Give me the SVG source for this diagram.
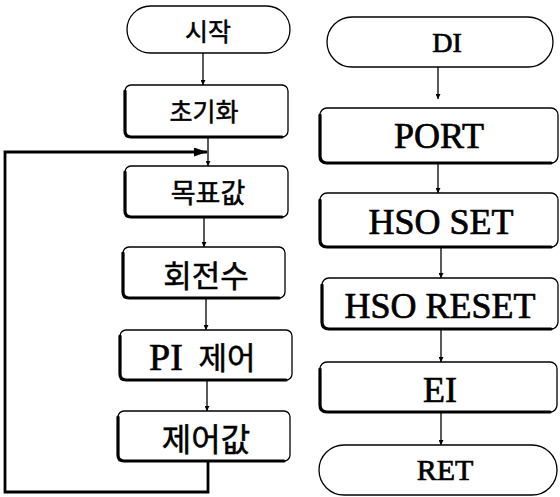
<svg xmlns="http://www.w3.org/2000/svg" width="560" height="497" viewBox="0 0 560 497">
<defs>
<style>
.box{fill:#fff;stroke:#000;stroke-width:1.3}
.sh{fill:none;stroke:#000;stroke-width:3.2;stroke-linecap:round}
.con{fill:none;stroke:#000;stroke-width:1.3}
.loop{fill:none;stroke:#000;stroke-width:2.8}
.ko{font-family:"Noto Sans CJK KR","Noto Sans",sans-serif;text-anchor:middle;dominant-baseline:central;fill:#000;stroke:#000;stroke-width:0.5}
.en{font-family:"Liberation Serif","DejaVu Serif",serif;text-anchor:middle;fill:#000;stroke:#000;stroke-width:0.7}
</style>
<marker id="ah" viewBox="0 0 10 10" refX="10" refY="5" markerWidth="5" markerHeight="5" markerUnits="userSpaceOnUse" orient="auto"><path d="M0,0L10,5L0,10z" fill="#000"/></marker>
<marker id="ahb" viewBox="0 0 10 10" refX="10" refY="5" markerWidth="13" markerHeight="9" markerUnits="userSpaceOnUse" orient="auto" preserveAspectRatio="none"><path d="M0,0L10,5L0,10z" fill="#000"/></marker>
</defs>
<rect width="560" height="497" fill="#fff"/>
<g id="connectors">
<path class="con" d="M203,53V85" marker-end="url(#ah)"/>
<path class="con" d="M208,137V166" marker-end="url(#ah)"/>
<path class="con" d="M204,217V247" marker-end="url(#ah)"/>
<path class="con" d="M206,298V330" marker-end="url(#ah)"/>
<path class="con" d="M207,380V411" marker-end="url(#ah)"/>
<path class="loop" d="M208,461V492H5V152H207" marker-end="url(#ahb)"/>
<path class="con" d="M438,67V99" marker-end="url(#ah)"/>
<path class="con" d="M438,163V193" marker-end="url(#ah)"/>
<path class="con" d="M441,247V278" marker-end="url(#ah)"/>
<path class="con" d="M441,329V362" marker-end="url(#ah)"/>
<path class="con" d="M441,412V445" marker-end="url(#ah)"/>
</g>
<g id="start">
<rect class="box" x="127" y="6" width="163" height="47" rx="23.5"/>
<text class="ko" x="208" y="30" font-size="25">시작</text>
</g>
<g id="init">
<rect class="box" x="125" y="85" width="163" height="52" rx="6"/>
<path class="sh" d="M125,91V131Q125,137 131,137H282"/>
<text class="ko" x="204" y="110" font-size="25">초기화</text>
</g>
<g id="target">
<rect class="box" x="125" y="166" width="163" height="51" rx="6"/>
<path class="sh" d="M125,172V211Q125,217 131,217H282"/>
<text class="ko" x="208" y="191" font-size="27">목표값</text>
</g>
<g id="speed">
<rect class="box" x="123" y="247" width="162" height="51" rx="6"/>
<path class="sh" d="M123,253V292Q123,298 129,298H279"/>
<text class="ko" x="206" y="273" font-size="31">회전수</text>
</g>
<g id="pi">
<rect class="box" x="120" y="330" width="172" height="50" rx="6"/>
<path class="sh" d="M120,336V374Q120,380 126,380H286"/>
<text class="en" x="166" y="370" font-size="38">PI</text>
<text class="ko" x="227" y="355" font-size="31">제어</text>
</g>
<g id="ctrl">
<rect class="box" x="118" y="411" width="172" height="50" rx="6"/>
<path class="sh" d="M118,417V455Q118,461 124,461H284"/>
<text class="ko" x="206" y="437" font-size="32">제어값</text>
</g>
<g id="di">
<rect class="box" x="327" y="17" width="226" height="50" rx="25"/>
<text class="en" x="447" y="52" font-size="28">DI</text>
</g>
<g id="port">
<rect class="box" x="320" y="108" width="238" height="55" rx="7"/>
<path class="sh" d="M320,115V156Q320,163 327,163H551"/>
<text class="en" x="439" y="148" font-size="36">PORT</text>
</g>
<g id="hsoset">
<rect class="box" x="320" y="193" width="238" height="54" rx="7"/>
<path class="sh" d="M320,200V240Q320,247 327,247H551"/>
<text class="en" x="441" y="234" font-size="36">HSO SET</text>
</g>
<g id="hsoreset">
<rect class="box" x="322" y="278" width="236" height="51" rx="7"/>
<path class="sh" d="M322,285V322Q322,329 329,329H551"/>
<text class="en" x="440" y="318" font-size="36">HSO RESET</text>
</g>
<g id="ei">
<rect class="box" x="320" y="362" width="237" height="50" rx="7"/>
<path class="sh" d="M320,369V405Q320,412 327,412H550"/>
<text class="en" x="440" y="402" font-size="36">EI</text>
</g>
<g id="ret">
<rect class="box" x="319" y="445" width="238" height="50" rx="25"/>
<text class="en" x="445" y="480" font-size="30">RET</text>
</g>
</svg>
